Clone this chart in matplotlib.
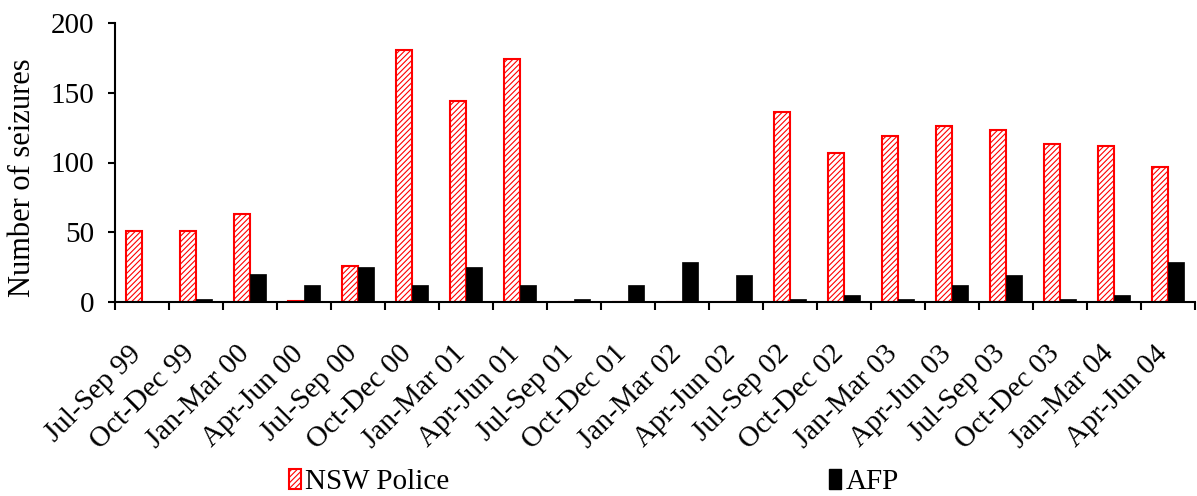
import matplotlib
matplotlib.use("Agg")
import matplotlib.pyplot as plt
import numpy as np
from matplotlib.patches import Patch

categories = ["Jul-Sep 99", "Oct-Dec 99", "Jan-Mar 00", "Apr-Jun 00", "Jul-Sep 00",
              "Oct-Dec 00", "Jan-Mar 01", "Apr-Jun 01", "Jul-Sep 01", "Oct-Dec 01",
              "Jan-Mar 02", "Apr-Jun 02", "Jul-Sep 02", "Oct-Dec 02", "Jan-Mar 03",
              "Apr-Jun 03", "Jul-Sep 03", "Oct-Dec 03", "Jan-Mar 04", "Apr-Jun 04"]
nsw_police = [51, 51, 63, 1, 26, 181, 144, 174, 0, 0, 0, 0, 136, 107, 119, 126, 123, 113, 112, 97]
afp = [0, 2, 20, 12, 25, 12, 25, 12, 2, 12, 29, 19, 2, 5, 2, 12, 19, 2, 5, 29]
y_ticks = [0, 50, 100, 150, 200]

plt.rcParams['font.family'] = ['Liberation Serif', 'DejaVu Serif']
plt.rcParams['hatch.linewidth'] = 0.8

fig = plt.figure(figsize=(11.97, 4.96), dpi=100)
ax = fig.add_axes([115/1197, 1-302/496, (1195-115)/1197, (302-23)/496])

x = np.arange(len(categories))
w = 0.3
ax.bar(x - w/2, nsw_police, width=w, facecolor='white', edgecolor='red',
       hatch='//////', linewidth=1.5)
ax.bar(x + w/2, afp, width=w, color='black', edgecolor='black', linewidth=0.5)

ax.set_xlim(-0.5, len(categories) - 0.5)
ax.set_ylim(0, 200)
ax.set_yticks(y_ticks)
ax.tick_params(axis='y', labelsize=21, length=5, width=1.5, direction='out', pad=10)
ax.set_xticks(x)
ax.set_xticklabels(categories, rotation=45, ha='right', va='baseline',
                   rotation_mode='anchor', fontsize=21)
ax.tick_params(axis='x', which='major', length=0, pad=38)
ax.set_xticks(np.arange(len(categories) + 1) - 0.5, minor=True)
ax.tick_params(axis='x', which='minor', length=6, width=1.5, direction='out')
ax.set_ylabel("Number of seizures", fontsize=22)
ax.yaxis.set_label_coords(-0.072, 0.445)

for s in ['top', 'right']:
    ax.spines[s].set_visible(False)
for s in ['left', 'bottom']:
    ax.spines[s].set_linewidth(1.5)

handles = [Patch(facecolor='white', edgecolor='red', hatch='//////', linewidth=1.5, label='NSW Police'),
           Patch(facecolor='black', edgecolor='black', label='AFP')]
fig.legend(handles=handles, loc='center', bbox_to_anchor=(0.496, 0.028), ncol=2,
           frameon=False, fontsize=21, columnspacing=13, handlelength=0.42,
           handleheight=0.65, handletextpad=0.15, borderpad=0.1)

fig.savefig("out.png", dpi=100)
